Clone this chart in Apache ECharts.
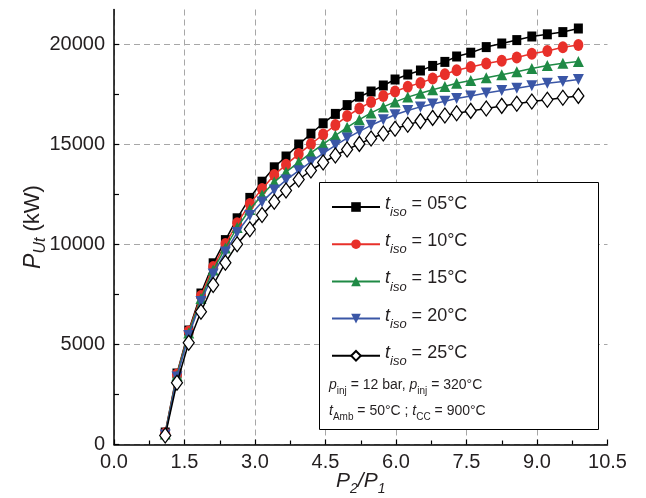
<!DOCTYPE html>
<html>
<head>
<meta charset="utf-8">
<script src="https://cdn.jsdelivr.net/npm/echarts@6/dist/echarts.min.js"></script>
<style>
html,body{margin:0;padding:0;background:#fff;}
#chart{width:646px;height:498px;}
</style>
</head>
<body>
<div id="chart"></div>
<script>
// Pressure ratio P2/P1
const xValues = [1.09, 1.34, 1.59, 1.85, 2.11, 2.37, 2.62, 2.89, 3.15, 3.41, 3.66, 3.93, 4.19, 4.45, 4.71, 4.96, 5.22, 5.47, 5.73, 5.98, 6.25, 6.52, 6.78, 7.04, 7.29, 7.59, 7.92, 8.25, 8.57, 8.89, 9.22, 9.55, 9.88];
// P_Ut (kW) for each t_iso
const t05 = [600, 3550, 5700, 7550, 9060, 10220, 11310, 12330, 13140, 13860, 14400, 15000, 15540, 16060, 16530, 16970, 17390, 17650, 17950, 18250, 18500, 18700, 18930, 19130, 19400, 19590, 19870, 20050, 20220, 20400, 20510, 20620, 20800];
const t10 = [560, 3500, 5650, 7420, 8880, 10020, 11060, 12030, 12780, 13480, 13990, 14520, 15020, 15500, 15970, 16420, 16800, 17130, 17420, 17650, 17890, 18080, 18300, 18510, 18710, 18880, 19050, 19190, 19350, 19540, 19680, 19860, 19970];
const t15 = [520, 3450, 5580, 7300, 8720, 9830, 10850, 11750, 12480, 13120, 13620, 14120, 14580, 15020, 15450, 15860, 16240, 16580, 16880, 17130, 17370, 17560, 17740, 17900, 18060, 18200, 18340, 18490, 18640, 18800, 18950, 19060, 19150];
const t20 = [480, 3380, 5450, 7150, 8520, 9620, 10600, 11450, 12130, 12720, 13220, 13690, 14130, 14560, 14960, 15320, 15660, 15960, 16240, 16490, 16700, 16880, 17030, 17160, 17300, 17430, 17570, 17700, 17810, 17940, 18060, 18150, 18250];
const t25 = [450, 3090, 5090, 6640, 7975, 9090, 10010, 10760, 11475, 12140, 12700, 13250, 13700, 14100, 14450, 14750, 15030, 15300, 15550, 15790, 15990, 16170, 16330, 16450, 16560, 16680, 16800, 16930, 17040, 17150, 17240, 17340, 17430];
const seriesTemps = ['05', '10', '15', '20', '25'];
// Tick labels
const xTicks = [0, 1.5, 3.0, 4.5, 6.0, 7.5, 9.0, 10.5];
const xTickLabels = ['0.0', '1.5', '3.0', '4.5', '6.0', '7.5', '9.0', '10.5'];
const yTicks = [0, 5000, 10000, 15000, 20000];
const yTickLabels = ['0', '5000', '10000', '15000', '20000'];

const allValues = [t05, t10, t15, t20, t25];
const styles = [
  {symbol: 'rect', size: [9, 10], color: '#000000', fill: '#000000', rotate: 0},
  {symbol: 'circle', size: [10, 12], color: '#e8302a', fill: '#e8302a', rotate: 0},
  {symbol: 'triangle', size: [11, 11], color: '#1f8a45', fill: '#1f8a45', rotate: 0},
  {symbol: 'triangle', size: [11, 11], color: '#3a56a6', fill: '#3a56a6', rotate: 180},
  {symbol: 'diamond', size: [11, 15], color: '#000000', fill: '#ffffff', rotate: 0}
];

const series = allValues.map((vals, k) => ({
  name: 't_iso = ' + seriesTemps[k] + '°C',
  type: 'line',
  data: xValues.map((x, i) => [x, vals[i]]),
  symbol: styles[k].symbol,
  symbolSize: styles[k].size,
  symbolRotate: styles[k].rotate,
  showAllSymbol: true,
  clip: false,
  lineStyle: {color: styles[k].color, width: 1.5},
  itemStyle: {color: styles[k].fill, borderColor: styles[k].color, borderWidth: k === 4 ? 1.3 : 0, opacity: 1},
  emphasis: {disabled: true},
  z: 2 + k
}));

const font = 'Liberation Sans, Arial, Helvetica, sans-serif';
const txt = '#231f20';

const xSplitColors = xTicks.map((v, i) => (i === xTicks.length - 1 ? 'rgba(0,0,0,0)' : '#a7a7a7'));
const ySplitColors = [];
for (let v = 0; v <= 21750; v += 2500) ySplitColors.push(yTicks.indexOf(v) >= 0 ? '#a7a7a7' : 'rgba(0,0,0,0)');
ySplitColors.push('rgba(0,0,0,0)');

const chart = echarts.init(document.getElementById('chart'), null, {renderer: 'canvas', width: 646, height: 498});
chart.setOption({
  animation: false,
  backgroundColor: '#ffffff',
  textStyle: {fontFamily: font},
  grid: {left: 114, right: 38.5, top: 9.5, bottom: 53.5, containLabel: false, outerBoundsMode: 'none'},
  xAxis: {
    type: 'value', min: 0, max: 10.5, interval: 1.5,
    name: '{i|P}{s|2}{i|/P}{s|1}',
    nameLocation: 'middle', nameGap: 26, nameMoveOverlap: false,
    nameTextStyle: {
      color: txt, fontFamily: font,
      rich: {
        i: {fontSize: 21, fontStyle: 'italic', fontFamily: font, color: txt, lineHeight: 26, verticalAlign: 'top'},
        s: {fontSize: 14, fontStyle: 'italic', fontFamily: font, color: txt, lineHeight: 14, verticalAlign: 'bottom'}
      }
    },
    axisLine: {onZero: false, lineStyle: {color: '#000', width: 1.5}},
    axisTick: {inside: true, length: 5, lineStyle: {color: '#000', width: 1.2}},
    minorTick: {show: true, splitNumber: 2, length: 4, lineStyle: {color: '#000', width: 1.2}},
    axisLabel: {
      margin: 8, fontSize: 20, color: txt, fontFamily: font,
      formatter: v => { const i = xTicks.findIndex(t => Math.abs(t - v) < 1e-6); return i >= 0 ? xTickLabels[i] : ''; }
    },
    splitLine: {show: true, lineStyle: {color: xSplitColors, type: [6, 4], width: 1}},
    minorSplitLine: {show: false}
  },
  yAxis: {
    type: 'value', min: 0, max: 21750, interval: 2500,
    name: '{i|P}{s|Ut}{n| (kW)}',
    nameLocation: 'middle', nameGap: 65, nameRotate: 90, nameMoveOverlap: false,
    nameTextStyle: {
      color: txt, fontFamily: font,
      rich: {
        i: {fontSize: 23, fontStyle: 'italic', fontFamily: font, color: txt, lineHeight: 27, verticalAlign: 'top'},
        s: {fontSize: 16, fontStyle: 'italic', fontFamily: font, color: txt, lineHeight: 15, verticalAlign: 'bottom'},
        n: {fontSize: 22, fontFamily: font, color: txt, lineHeight: 27, verticalAlign: 'top'}
      }
    },
    axisLine: {onZero: false, lineStyle: {color: '#000', width: 1.5}},
    axisTick: {inside: true, length: 5, lineStyle: {color: '#000', width: 1.2}},
    axisLabel: {
      margin: 9, fontSize: 20, color: txt, fontFamily: font, showMaxLabel: false,
      formatter: v => { const i = yTicks.indexOf(v); return i >= 0 ? yTickLabels[i] : ''; }
    },
    splitLine: {show: true, lineStyle: {color: ySplitColors, type: [6, 4], width: 1}}
  },
  legend: {
    orient: 'vertical', left: 331, top: 195,
    itemWidth: 48, itemHeight: 12, itemGap: 13.2,
    padding: 0, z: 6,
    selectedMode: false,
    formatter: name => {
      const k = series.findIndex(s => s.name === name);
      return '{t|t}{s|iso}{n| = ' + seriesTemps[k] + '°C}';
    },
    textStyle: {
      color: txt, fontFamily: font,
      rich: {
        t: {fontSize: 18, fontStyle: 'italic', fontFamily: font, color: txt, lineHeight: 24, verticalAlign: 'top'},
        s: {fontSize: 13, fontStyle: 'italic', fontFamily: font, color: txt, lineHeight: 13, verticalAlign: 'bottom'},
        n: {fontSize: 18, fontFamily: font, color: txt, lineHeight: 24, verticalAlign: 'top'}
      }
    }
  },
  graphic: [
    {type: 'rect', left: 319, top: 182, z: 5, shape: {width: 279, height: 247},
     style: {fill: '#ffffff', stroke: '#000000', lineWidth: 1}},
    {type: 'text', left: 329, top: 378, z: 7,
     style: {
       text: '{i|p}{s|inj}{n| = 12 bar, }{i|p}{s|inj}{n| = 320°C}',
       rich: {
         i: {fontSize: 14, fontStyle: 'italic', fontFamily: font, fill: txt, lineHeight: 18, verticalAlign: 'top'},
         s: {fontSize: 10, fontFamily: font, fill: txt, lineHeight: 10, verticalAlign: 'bottom'},
         n: {fontSize: 14, fontFamily: font, fill: txt, lineHeight: 18, verticalAlign: 'top'}
       }
     }},
    {type: 'text', left: 329, top: 404, z: 7,
     style: {
       text: '{i|t}{s|Amb}{n| = 50°C ; }{i|t}{s|CC}{n| = 900°C}',
       rich: {
         i: {fontSize: 14, fontStyle: 'italic', fontFamily: font, fill: txt, lineHeight: 18, verticalAlign: 'top'},
         s: {fontSize: 10, fontFamily: font, fill: txt, lineHeight: 10, verticalAlign: 'bottom'},
         n: {fontSize: 14, fontFamily: font, fill: txt, lineHeight: 18, verticalAlign: 'top'}
       }
     }}
  ],
  series: series
});
</script>
</body>
</html>
